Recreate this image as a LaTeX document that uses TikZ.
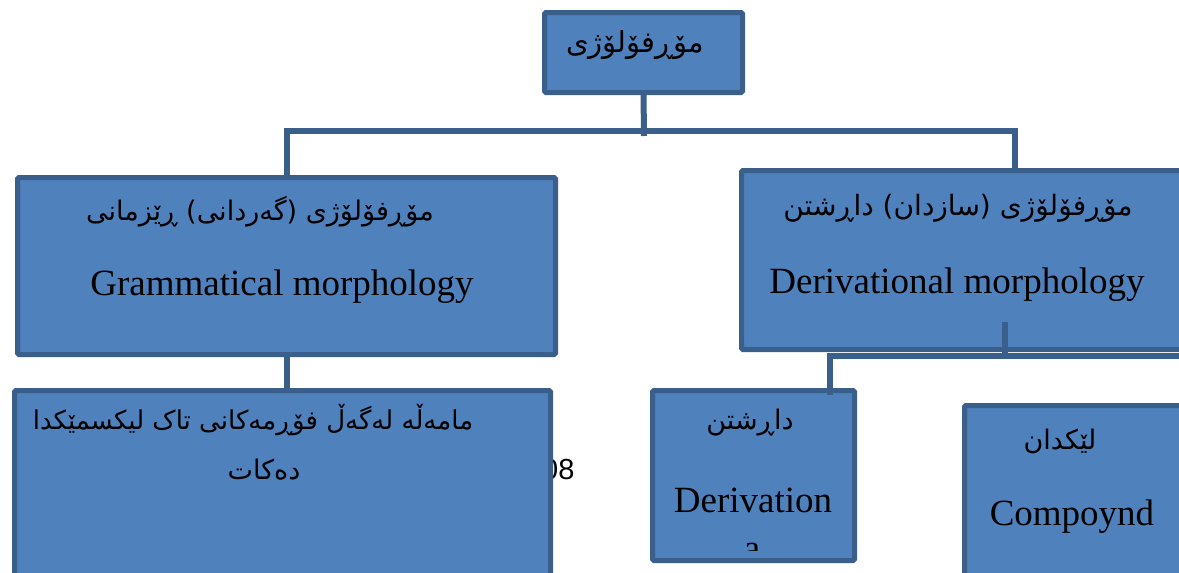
\documentclass[tikz,border=0pt]{standalone}
\usepackage{fontspec}
\setmainfont{Liberation Serif}
\setsansfont{Liberation Sans}
\newfontfamily\ku[Script=Arabic]{DejaVu Sans}
\TeXXeTstate=1
\definecolor{boxfill}{HTML}{4F81BD}
\definecolor{boxline}{HTML}{3A5F8B}
\tikzset{
  box/.style={draw=boxline, fill=boxfill, line width=5pt, rounded corners=1.5pt, inner sep=0pt, outer sep=0pt},
  conn/.style={draw=boxline, line width=6pt},
  ar/.style={font=\ku\fontsize{27}{32}\selectfont, inner sep=0pt},
  en/.style={font=\fontsize{37}{44}\selectfont, inner sep=0pt},
}
\begin{document}
\begin{tikzpicture}[x=1pt,y=-1pt]
\useasboundingbox (0,0) rectangle (1179,573);
\clip (0,0) rectangle (1179,573);
% stray page number behind the box
\node[font=\sffamily\fontsize{29}{32}\selectfont, anchor=west, inner sep=0pt] (pg) at (542,470) {08};
% boxes
\node[box, minimum width=198pt, minimum height=80pt] (top) at (643.5,52.5) {};
\node[box, minimum width=538pt, minimum height=177pt] (left) at (286.5,266) {};
\node[box, minimum width=441pt, minimum height=179pt] (right) at (962,260) {};
\node[box, minimum width=536pt, minimum height=187pt] (lb) at (282.5,484) {};
\node[box, minimum width=202pt, minimum height=170pt] (der) at (753.5,475.5) {};
\node[box, minimum width=223pt, minimum height=172pt] (comp) at (1076,491.5) {};
% connectors
\coordinate (bar) at (644,131);
\coordinate (barend) at (644,136);
\coordinate (rj) at (1015,168);
\coordinate (rs) at (1005,322);
\coordinate (rm) at (1005,356);
\coordinate (rend) at (1185,356);
\coordinate (dj) at (830,356);
\coordinate (djend) at (830,395);
\draw[conn] (top.south) -- (barend);
\draw[conn] (left.north) |- (bar) -| (rj);
\draw[conn] (left.south) -- (left.south |- lb.north);
\draw[conn] (rs) -- (rm);
\draw[conn] (rend) -- (dj) -- (djend);
% texts
\node[ar, font=\ku\fontsize{29}{32}\selectfont] (t1) at (635,45) {\beginR مۆڕفۆلۆژی\endR};
\node[ar] (l1) at (260,212) {\beginR مۆڕفۆلۆژی (گەردانی) ڕێزمانی\endR};
\node[en] (l2) at (282,287) {Grammatical morphology};
\node[ar, font=\ku\fontsize{28}{32}\selectfont] (r1) at (958,208) {\beginR مۆڕفۆلۆژی (سازدان) داڕشتن\endR};
\node[en] (r2) at (957,285) {Derivational morphology};
\node[ar, font=\ku\fontsize{26}{32}\selectfont] (b1) at (253,420) {\beginR مامەڵە لەگەڵ فۆڕمەکانی تاک لیکسمێکدا\endR};
\node[ar] (b2) at (264,470) {\beginR دەکات\endR};
\node[ar] (d1) at (750,423) {\beginR داڕشتن\endR};
\node[en] (d2) at (753,500) {Derivation};
\begin{scope}
\clip (650,520) rectangle (857,550);
\node[en, anchor=base] (d3) at (752,560) {a};
\end{scope}
\node[ar] (c1) at (1060,441) {\beginR لێکدان\endR};
\node[en] (c2) at (1072,517) {Compoynd};
\end{tikzpicture}
\end{document}
